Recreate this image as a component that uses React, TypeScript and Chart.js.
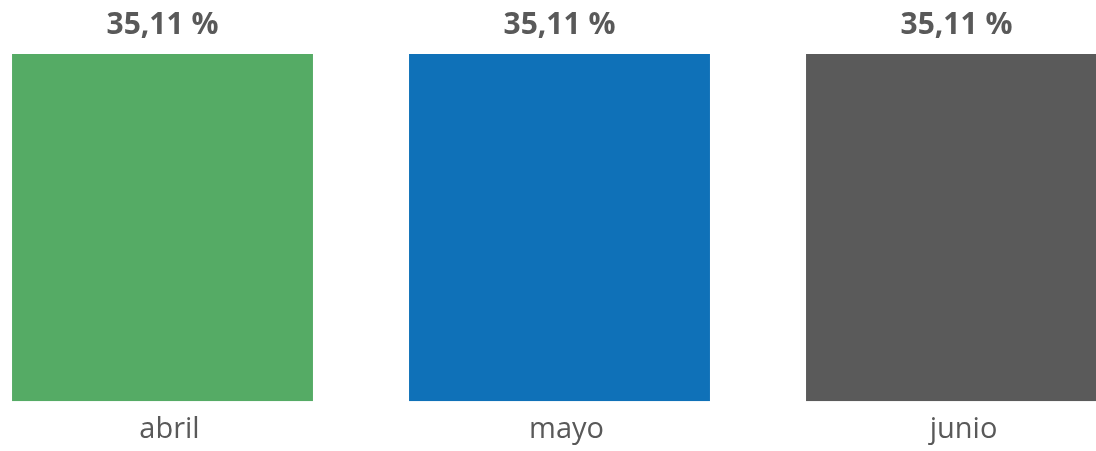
import React, { useEffect, useRef } from "react";
import { Chart, registerables } from "chart.js";

Chart.register(...registerables);

const categories = ["abril", "mayo", "junio"];
const values = [35.11, 35.11, 35.11];
const valueLabels = ["35,11 %", "35,11 %", "35,11 %"];
const barColors = ["#55AB65", "#0F71B8", "#5A5A5A"];

const valueLabelPlugin = {
  id: "valueLabels",
  afterDatasetsDraw(chart: any) {
    const ctx = chart.ctx;
    const meta = chart.getDatasetMeta(0);
    ctx.save();
    ctx.font = "bold 30px 'Open Sans'";
    ctx.fillStyle = "#595959";
    ctx.textAlign = "center";
    ctx.textBaseline = "alphabetic";
    meta.data.forEach((bar: any, i: number) => {
      ctx.fillText(valueLabels[i], bar.x, bar.y - 20);
    });
    ctx.restore();
  },
};

export default function App() {
  const ref = useRef<HTMLCanvasElement>(null);
  useEffect(() => {
    document.body.style.overflow = "hidden";
    document.documentElement.style.overflow = "hidden";
    const chart = new Chart(ref.current!, {
      type: "bar",
      data: {
        labels: categories,
        datasets: [
          {
            data: values,
            backgroundColor: barColors,
            barPercentage: 0.758,
            categoryPercentage: 1,
          },
        ],
      },
      options: {
        animation: false,
        responsive: true,
        maintainAspectRatio: false,
        layout: { padding: { top: 54, bottom: 0, left: 0, right: 0 } },
        plugins: {
          legend: { display: false },
          tooltip: { enabled: false },
        },
        scales: {
          x: {
            grid: { display: false },
            border: { display: false },
            ticks: {
              color: "#595959",
              font: { family: "'Open Sans'", size: 29, lineHeight: 0.753 },
              labelOffset: 7,
              padding: 10,
              maxRotation: 0,
            },
          },
          y: {
            display: false,
            min: 0,
            max: 35.11,
          },
        },
      },
      plugins: [valueLabelPlugin],
    });
    return () => chart.destroy();
  }, []);
  return (
    <div
      style={{
        position: "fixed",
        left: 0,
        top: 0,
        width: 1096,
        height: 451,
        overflow: "hidden",
        background: "#fff",
      }}
    >
      <div style={{ position: "absolute", left: -36, top: 0, width: 1191, height: 451 }}>
        <canvas ref={ref} />
      </div>
    </div>
  );
}
